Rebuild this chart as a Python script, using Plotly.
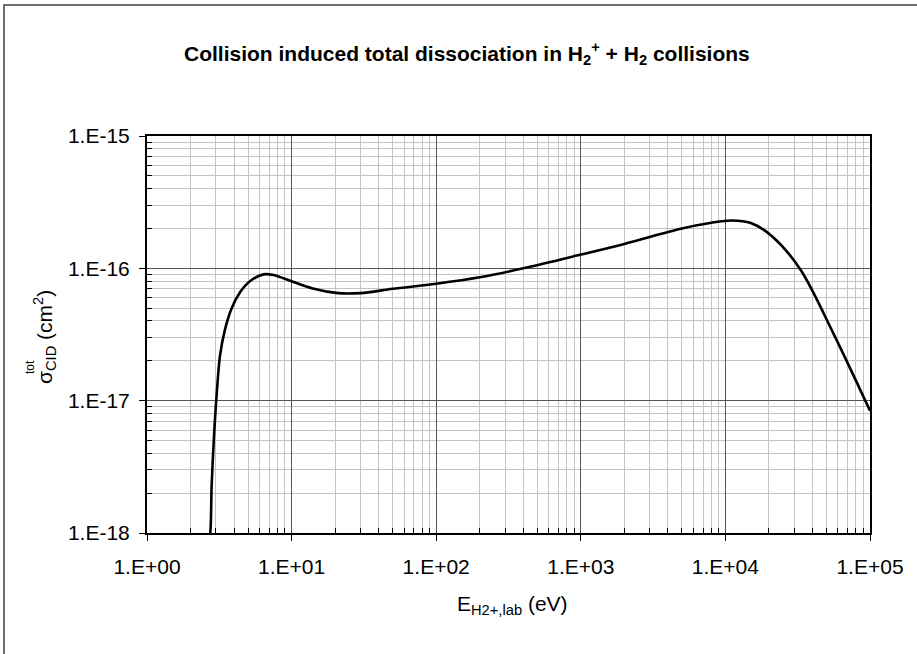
import plotly.graph_objects as go

# ---- data ----
energy_eV = [2.62, 2.74, 2.8, 2.91, 3.03, 3.2, 3.45, 3.85, 4.4, 5.15, 6.4,
             7.5, 8.8, 10, 14, 21, 30, 50, 100, 200, 400, 1000, 2000, 5000,
             8000, 11000, 15000, 21000, 33000, 56000, 100000]
sigma_cid = [7.0e-19, 1.0e-18, 2.3e-18, 5.5e-18, 1.1e-17, 2.2e-17, 3.4e-17,
             5.0e-17, 6.6e-17, 8.0e-17, 9.0e-17, 8.9e-17, 8.4e-17,
             8.0e-17, 7.05e-17, 6.5e-17, 6.5e-17, 7.0e-17, 7.65e-17,
             8.55e-17, 1.0e-16, 1.27e-16, 1.53e-16, 2.0e-16, 2.21e-16,
             2.3e-16, 2.2e-16, 1.75e-16, 9.8e-17, 3.2e-17, 8.4e-18]

x_tick_vals = [1, 10, 100, 1000, 10000, 100000]
x_tick_text = ["1.E+00", "1.E+01", "1.E+02", "1.E+03", "1.E+04", "1.E+05"]
y_tick_vals = [1e-18, 1e-17, 1e-16, 1e-15]
y_tick_text = ["1.E-18", "1.E-17", "1.E-16", "1.E-15"]

title_text = "<b>Collision induced total dissociation in H<sub>2</sub><sup>+</sup> + H<sub>2</sub> collisions</b>"
x_title = "E<sub>H2+,lab</sub> (eV)"
y_title = "σ<sub>CID</sub> (cm<sup>2</sup>)"
y_title_sup = "tot"

# ---- layout geometry (pixels) ----
W, H = 917, 654
L, R, T, B = 147, 870, 136, 533
pw, ph = R - L, B - T


def px(x):
    return (x - L) / pw


def py(y):
    return (B - y) / ph


def minor_vals(lo, hi):
    vals = []
    for k in range(lo, hi):
        for m in range(2, 10):
            vals.append(m * 10.0 ** k)
    return vals


FONT = "Liberation Sans, Arial, sans-serif"
major_grid = "#555555"
minor_grid = "#c4c4c4"

fig = go.Figure()
fig.add_trace(go.Scatter(
    x=energy_eV, y=sigma_cid, mode="lines",
    line=dict(color="black", width=2.6, shape="spline", smoothing=0.9),
    hoverinfo="skip", showlegend=False,
))

fig.update_layout(
    width=W, height=H,
    margin=dict(l=L, r=W - R, t=T, b=H - B, pad=0),
    paper_bgcolor="white", plot_bgcolor="white",
    font=dict(family=FONT, size=21, color="black"),
    showlegend=False,
)

fig.update_xaxes(
    type="log", range=[0, 5],
    tickmode="array", tickvals=x_tick_vals, ticktext=x_tick_text,
    ticks="outside", ticklen=6, tickcolor="black", tickwidth=1,
    ticklabelstandoff=8,
    tickfont=dict(size=21, family=FONT),
    showline=True, linecolor="black", linewidth=2, mirror=True,
    showgrid=True, gridcolor=major_grid, gridwidth=1,
    zeroline=False,
    minor=dict(tickmode="array", tickvals=minor_vals(0, 5), ticks="inside",
               ticklen=5, tickcolor="black", showgrid=True,
               gridcolor=minor_grid, gridwidth=1),
)
fig.update_yaxes(
    type="log", range=[-18, -15],
    tickmode="array", tickvals=y_tick_vals, ticktext=y_tick_text,
    ticks="outside", ticklen=6, tickcolor="black", tickwidth=1,
    ticklabelstandoff=5,
    tickfont=dict(size=21, family=FONT),
    showline=True, linecolor="black", linewidth=2, mirror=True,
    showgrid=True, gridcolor=major_grid, gridwidth=1,
    zeroline=False,
    minor=dict(tickmode="array", tickvals=minor_vals(-18, -15), ticks="inside",
               ticklen=5, tickcolor="black", showgrid=True,
               gridcolor=minor_grid, gridwidth=1),
)

annotations = [
    dict(text=title_text, x=px(467), y=py(54), xref="paper", yref="paper",
         xanchor="center", yanchor="middle", showarrow=False,
         font=dict(size=21, family=FONT)),
    dict(text=x_title, x=px(512), y=py(605), xref="paper", yref="paper",
         xanchor="center", yanchor="middle", showarrow=False,
         font=dict(size=21, family=FONT)),
    dict(text=y_title, x=px(44), y=py(337), xref="paper", yref="paper",
         xanchor="center", yanchor="middle", showarrow=False, textangle=-90,
         font=dict(size=21, family=FONT)),
    dict(text=y_title_sup, x=px(30), y=py(367), xref="paper", yref="paper",
         xanchor="center", yanchor="middle", showarrow=False, textangle=-90,
         font=dict(size=12, family=FONT)),
]
fig.update_layout(annotations=annotations)

# outer chart-area border (extends past the right/bottom edge of the picture)
fig.add_shape(type="rect", xref="paper", yref="paper",
              x0=px(4), x1=px(960), y0=py(700), y1=py(5),
              line=dict(color="#404040", width=1.5), fillcolor="rgba(0,0,0,0)",
              layer="below")

fig.write_html(
    "out.html",
    config={"displayModeBar": False},
    post_script="document.body.style.margin='0';document.body.style.padding='0';document.body.style.overflow='hidden';",
)
